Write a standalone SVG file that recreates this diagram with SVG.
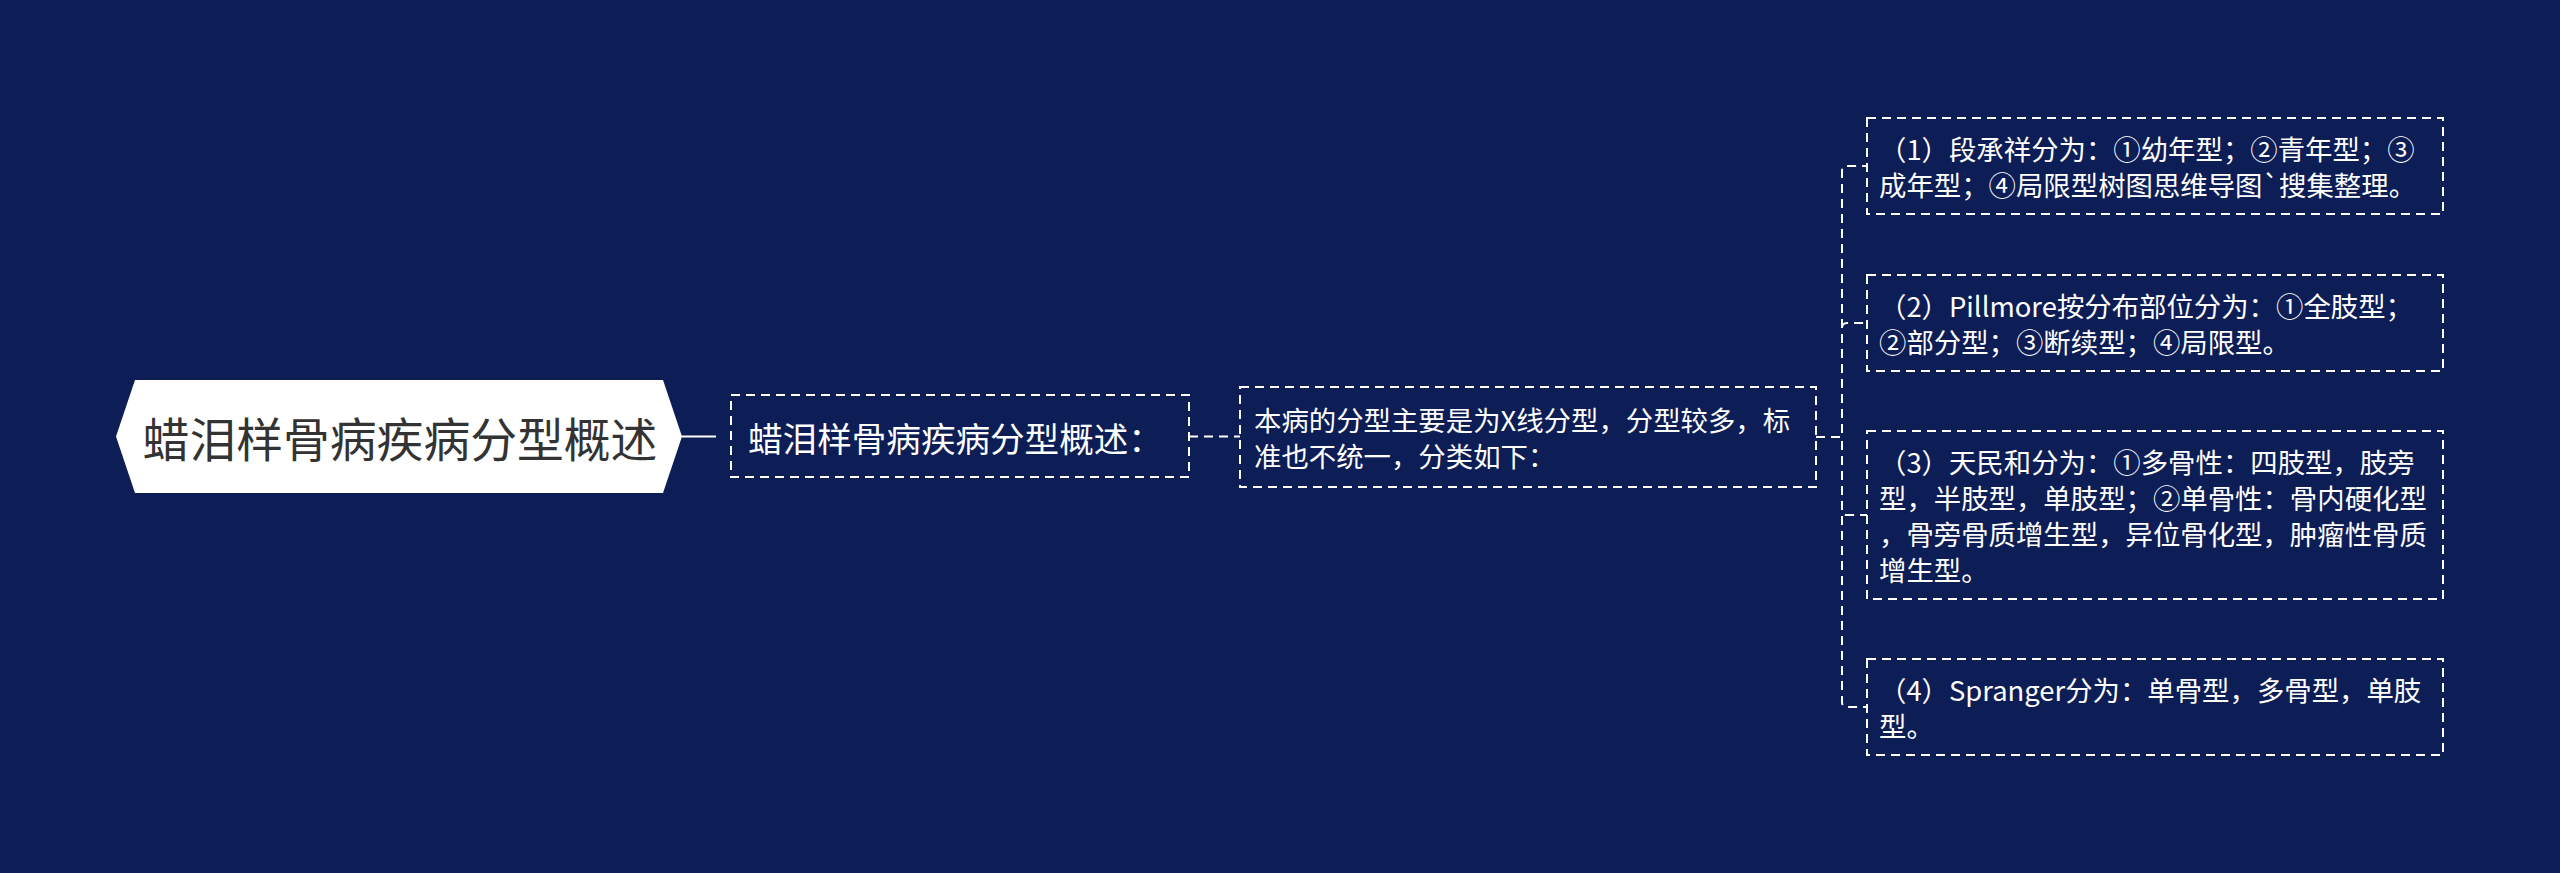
<svg xmlns="http://www.w3.org/2000/svg" width="2560" height="873" viewBox="0 0 2560 873">
  <style>
    .bg { fill: #0d1d55; }
    .box { fill: none; stroke: #ffffff; stroke-width: 2; stroke-dasharray: 9 6; }
    .conn { fill: none; stroke: #ffffff; stroke-width: 2; stroke-dasharray: 9 6; }
    .t { font-family: "Noto Sans CJK SC", "Noto Sans", sans-serif; fill: #ffffff; dominant-baseline: central; }
    .s { font-size: 27.4px; }
    .m { font-size: 34.6px; }
    .root { font-family: "Noto Sans CJK SC", "Noto Sans", sans-serif; font-size: 46.8px; fill: #333333; dominant-baseline: central; text-anchor: middle; }
  </style>
  <rect class="bg" x="0" y="0" width="2560" height="873"/>

  <g id="connectors">
    <path d="M682,436.5 H731" fill="none" stroke="#ffffff" stroke-width="2" stroke-dasharray="34 20"/>
    <path class="conn" d="M1189,436.5 H1240"/>
    <path class="conn" d="M1816,437 H1842 V171 Q1842,166 1847,166 H1867"/>
    <path class="conn" d="M1816,437 H1842 V328 Q1842,323 1847,323 H1867"/>
    <path class="conn" d="M1816,437 H1842 V510 Q1842,515 1847,515 H1867"/>
    <path class="conn" d="M1816,437 H1842 V702 Q1842,707 1847,707 H1867"/>
  </g>

  <g id="root">
    <polygon points="116,436.5 135,380 663,380 682,436.5 663,493 135,493" fill="#ffffff"/>
    <text class="root" x="400" y="436.5">蜡泪样骨病疾病分型概述</text>
  </g>

  <g id="node-summary">
    <rect class="box" x="731" y="395" width="458" height="82"/>
    <text class="t m" x="748" y="436.5">蜡泪样骨病疾病分型概述：</text>
  </g>

  <g id="node-intro">
    <rect class="box" x="1240" y="387" width="576" height="100"/>
    <text class="t s" x="1254" y="419">本病的分型主要是为X线分型，分型较多，标</text>
    <text class="t s" x="1254" y="455">准也不统一，分类如下：</text>
  </g>

  <g id="node-1">
    <rect class="box" x="1867" y="118" width="576" height="96"/>
    <text class="t s" x="1879" y="148">（1）段承祥分为：①幼年型；②青年型；③</text>
    <text class="t s" x="1879" y="184">成年型；④局限型树图思维导图`搜集整理。</text>
  </g>

  <g id="node-2">
    <rect class="box" x="1867" y="275" width="576" height="96"/>
    <text class="t s" x="1879" y="305">（2）Pillmore按分布部位分为：①全肢型；</text>
    <text class="t s" x="1879" y="341">②部分型；③断续型；④局限型。</text>
  </g>

  <g id="node-3">
    <rect class="box" x="1867" y="431" width="576" height="168"/>
    <text class="t s" x="1879" y="461">（3）天民和分为：①多骨性：四肢型，肢旁</text>
    <text class="t s" x="1879" y="497">型，半肢型，单肢型；②单骨性：骨内硬化型</text>
    <text class="t s" x="1879" y="533">，骨旁骨质增生型，异位骨化型，肿瘤性骨质</text>
    <text class="t s" x="1879" y="569">增生型。</text>
  </g>

  <g id="node-4">
    <rect class="box" x="1867" y="659" width="576" height="96"/>
    <text class="t s" x="1879" y="689">（4）Spranger分为：单骨型，多骨型，单肢</text>
    <text class="t s" x="1879" y="725">型。</text>
  </g>
</svg>
